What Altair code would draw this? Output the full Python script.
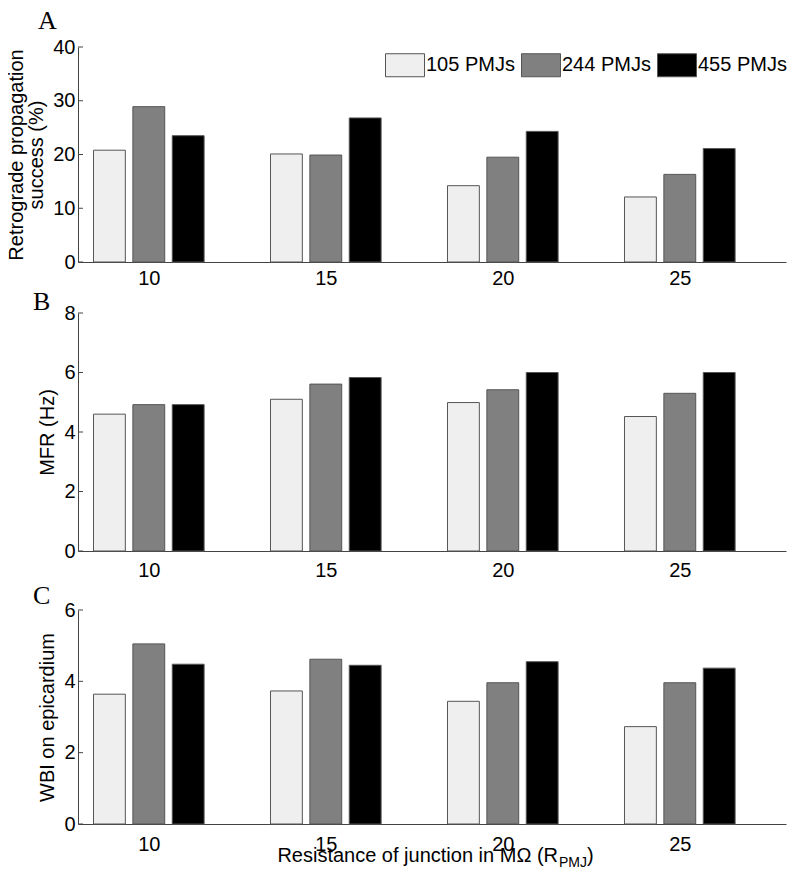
import altair as alt
import pandas as pd

# ---------------- data ----------------
R_VALUES = [10, 15, 20, 25]
SERIES = ["105 PMJs", "244 PMJs", "455 PMJs"]
COLORS = ["#efefef", "#808080", "#000000"]

RETRO_105 = [20.8, 20.1, 14.2, 12.1]
RETRO_244 = [28.9, 19.9, 19.5, 16.3]
RETRO_455 = [23.5, 26.8, 24.3, 21.1]

MFR_105 = [4.60, 5.10, 4.99, 4.52]
MFR_244 = [4.92, 5.61, 5.42, 5.30]
MFR_455 = [4.92, 5.83, 6.00, 6.00]

WBI_105 = [3.64, 3.73, 3.44, 2.73]
WBI_244 = [5.05, 4.62, 3.96, 3.96]
WBI_455 = [4.48, 4.45, 4.55, 4.37]

TICKS_A = [0, 10, 20, 30, 40]
TICKS_B = [0, 2, 4, 6, 8]
TICKS_C = [0, 2, 4, 6]

PANEL_LETTERS = ["A", "B", "C"]
X_TITLE_MAIN = ["Resistance of junction in MΩ (R"]
X_TITLE_SUB = ["PMJ"]
X_TITLE_END = [")"]

FONT = "Liberation Sans"
SERIF = "Liberation Serif"

GROUP_STEP = 5.0
BAR_SPACING = 0.2225 * GROUP_STEP
BAR_HALF = 0.09 * GROUP_STEP
PLOT_W = 708


def long_df(a, b, c):
    rows = []
    for s_i, (name, vals) in enumerate(zip(SERIES, [a, b, c])):
        for r, v in zip(R_VALUES, vals):
            ctr = r + (s_i - 1) * BAR_SPACING
            rows.append({"R": r, "series": name, "value": v,
                         "x0": ctr - BAR_HALF, "x1": ctr + BAR_HALF})
    return pd.DataFrame(rows)


def text_layer(values, x, y, size, font=FONT, align="left", baseline="alphabetic"):
    return alt.Chart(pd.DataFrame({"t": values})).mark_text(
        align=align, baseline=baseline, font=font, fontSize=size, color="black"
    ).encode(text="t:N", x=alt.value(x), y=alt.value(y))


def panel(df, ymax, ticks, ytitle, height, letter, letter_x, letter_y,
          xlabel_pad, legend=None, extra=None):
    xscale = alt.Scale(domain=[8, 28], nice=False, zero=False)
    yscale = alt.Scale(domain=[0, ymax], nice=False, zero=True)
    yaxis = alt.Axis(values=ticks, labelPadding=3, titlePadding=6)
    bars = alt.Chart(df).mark_bar(stroke="#555555", strokeWidth=1, opacity=1).encode(
        x=alt.X("x0:Q", scale=xscale,
                axis=alt.Axis(values=R_VALUES, labelPadding=xlabel_pad, format="d"),
                title=None),
        x2="x1:Q",
        y=alt.Y("value:Q", scale=yscale, axis=yaxis, title=ytitle),
        y2=alt.datum(0),
        color=alt.Color("series:N", scale=alt.Scale(domain=SERIES, range=COLORS),
                        legend=legend),
    )
    tick_df = pd.DataFrame({"t": ticks})
    tick_rules = alt.Chart(tick_df).mark_rule(color="#444444", strokeWidth=1).encode(
        x=alt.value(0), x2=alt.value(5),
        y=alt.Y("t:Q", scale=yscale, axis=yaxis, title=ytitle),
    )
    layers = [bars, tick_rules,
              text_layer([letter], letter_x, letter_y, 26, font=SERIF, baseline="top")]
    if extra:
        layers += extra
    return alt.layer(*layers).properties(width=PLOT_W, height=height)


legend_a = alt.Legend(
    orient="none", legendX=307, legendY=-2, direction="horizontal", title=None,
    symbolType="M-1,-0.59H1V0.59H-1Z", symbolSize=1521,
    symbolStrokeColor="#555555", symbolStrokeWidth=1, symbolOpacity=1,
    labelFont=FONT, labelFontSize=20, labelColor="black", labelOffset=1,
    columnPadding=4, padding=0, labelLimit=200,
)

x_title = [
    text_layer(X_TITLE_MAIN, 480, 252, 20, align="right"),
    text_layer(X_TITLE_SUB, 481, 257, 14),
    text_layer(X_TITLE_END, 509, 252, 20),
]

pa = panel(long_df(RETRO_105, RETRO_244, RETRO_455), 40, TICKS_A,
           ["Retrograde propagation", "success (%)"], 215, PANEL_LETTERS[0],
           -40, -39, 6, legend=legend_a)
pb = panel(long_df(MFR_105, MFR_244, MFR_455), 8, TICKS_B,
           "MFR (Hz)", 238, PANEL_LETTERS[1], -45, -24, 9, legend=None)
pc = panel(long_df(WBI_105, WBI_244, WBI_455), 6, TICKS_C,
           "WBI on epicardium", 214, PANEL_LETTERS[2], -45, -27, 10, legend=None,
           extra=x_title)

bc = alt.vconcat(pb, pc, spacing=59, bounds="flush").resolve_scale(color="independent")
chart = alt.vconcat(pa, bc, spacing=51, bounds="flush").resolve_scale(
    color="independent"
).resolve_legend(color="independent").properties(
    padding={"top": 0, "left": -2, "right": 0, "bottom": 0}
).configure_view(
    stroke=None
).configure_axis(
    labelFont=FONT, titleFont=FONT, labelFontSize=20, titleFontSize=20,
    labelColor="black", titleColor="black", titleFontWeight="normal",
    domainColor="#444444", domainWidth=1, ticks=False, tickSize=0, grid=False,
    titleLineHeight=20,
)

chart.save("out.html", embed_options={"renderer": "svg", "actions": False})
